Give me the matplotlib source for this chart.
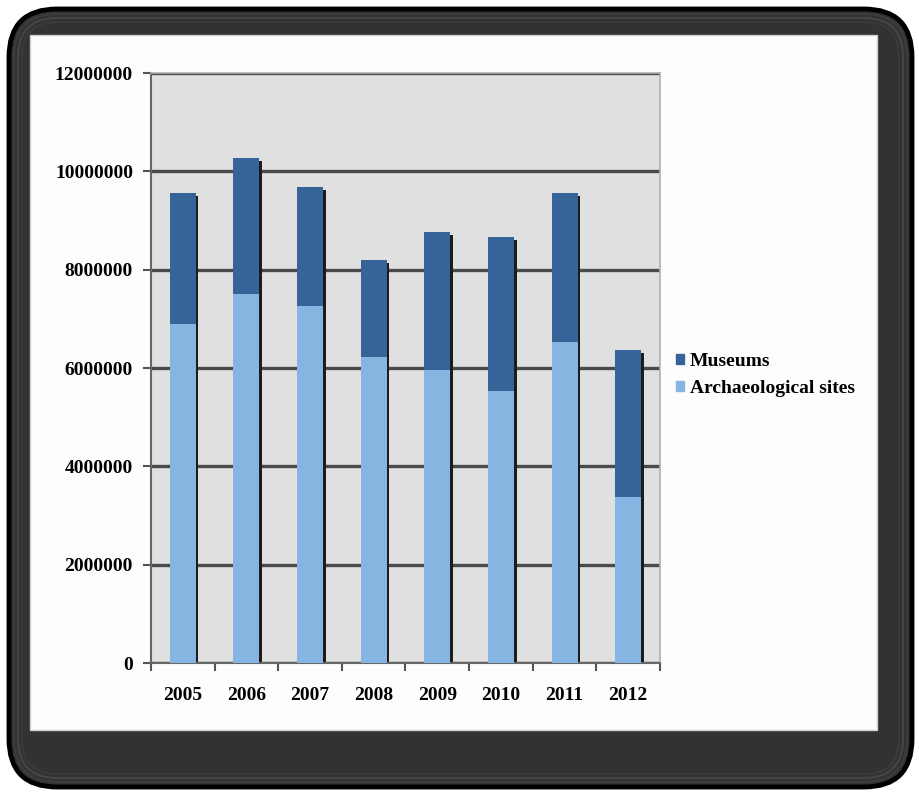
import numpy as np
import matplotlib
matplotlib.use("Agg")
import matplotlib.pyplot as plt
from matplotlib.patches import FancyBboxPatch, Rectangle, Patch

# data
years = ['2005', '2006', '2007', '2008', '2009', '2010', '2011', '2012']
archaeological = [6890000, 7510000, 7270000, 6230000, 5960000, 5530000, 6520000, 3380000]
museums = [2670000, 2770000, 2410000, 1960000, 2800000, 3140000, 3030000, 2980000]
series_names = ['Museums', 'Archaeological sites']
yticks = [0, 2000000, 4000000, 6000000, 8000000, 10000000, 12000000]

dark_blue = '#366398'
light_blue = '#85b5e0'

plt.rcParams['font.family'] = ['Liberation Serif', 'DejaVu Serif']
plt.rcParams['font.weight'] = 'bold'

W, H = 920, 794
fig = plt.figure(figsize=(W / 100, H / 100), dpi=100)
fig.patch.set_facecolor('white')

# frame in pixel coordinates
bg = fig.add_axes([0, 0, 1, 1])
bg.set_xlim(0, W)
bg.set_ylim(H, 0)
bg.axis('off')
bg.add_patch(FancyBboxPatch((9, 9), 903, 778, boxstyle='round,pad=0,rounding_size=48',
                            facecolor='#323232', edgecolor='black', linewidth=3.5))
for i, c in enumerate(['#3c3c3c', '#454545', '#3a3a3a']):
    d = 5 + i * 4
    bg.add_patch(FancyBboxPatch((9 + d, 9 + d), 903 - 2 * d, 778 - 2 * d,
                                boxstyle='round,pad=0,rounding_size=%d' % (48 - d),
                                facecolor='none', edgecolor=c, linewidth=1.5))
bg.add_patch(Rectangle((30, 35), 847, 695, facecolor='#fdfdfd', edgecolor='#cfcfcf', linewidth=1))

# chart axes
left, right, top, bottom = 151, 660, 73, 663
ax = fig.add_axes([left / W, 1 - bottom / H, (right - left) / W, (bottom - top) / H])
ax.set_facecolor('#e1e0e0')

x = np.arange(len(years))
arch = np.array(archaeological)
mus = np.array(museums)
total = arch + mus
w = 0.41

# bar shadows
ax.bar(x + 0.04, total - 60000, width=w, color='#1c1c1c', zorder=2)
ax.bar(x, arch, width=w, color=light_blue, zorder=3, label=series_names[1])
ax.bar(x, mus, bottom=arch, width=w, color=dark_blue, zorder=3, label=series_names[0])

ax.set_xlim(-0.5, len(years) - 0.5)
ax.set_ylim(0, 12000000)
ax.set_yticks(yticks)
ax.set_yticklabels([str(v) for v in yticks], fontsize=14, fontweight='bold')
ax.yaxis.grid(True, color='#4a4a4a', linewidth=2.4, zorder=1)
ax.set_axisbelow(True)

ax.set_xticks(x)
ax.set_xticklabels(years, fontsize=14, fontweight='bold')
ax.set_xticks(np.arange(len(years) + 1) - 0.5, minor=True)
ax.tick_params(axis='x', which='major', length=0, pad=17)
ax.tick_params(axis='x', which='minor', length=6, width=1.5, color='#555555', direction='out')
ax.tick_params(axis='y', length=6, width=1.5, color='#555555', pad=7)

for s in ['left', 'bottom']:
    ax.spines[s].set_color('#666666')
    ax.spines[s].set_linewidth(1.5)
for s in ['top', 'right']:
    ax.spines[s].set_color('#b0b0b0')
    ax.spines[s].set_linewidth(1.2)

handles = [Patch(color=dark_blue), Patch(color=light_blue)]
leg = fig.legend(handles, series_names, loc='center left',
                 bbox_to_anchor=(676 / W, 1 - 375 / H), bbox_transform=fig.transFigure,
                 frameon=False, handlelength=0.4, handleheight=0.4, handletextpad=0.3,
                 labelspacing=0.5, borderpad=0, borderaxespad=0,
                 prop={'size': 14, 'weight': 'bold'})

fig.savefig('out.png', dpi=100)
